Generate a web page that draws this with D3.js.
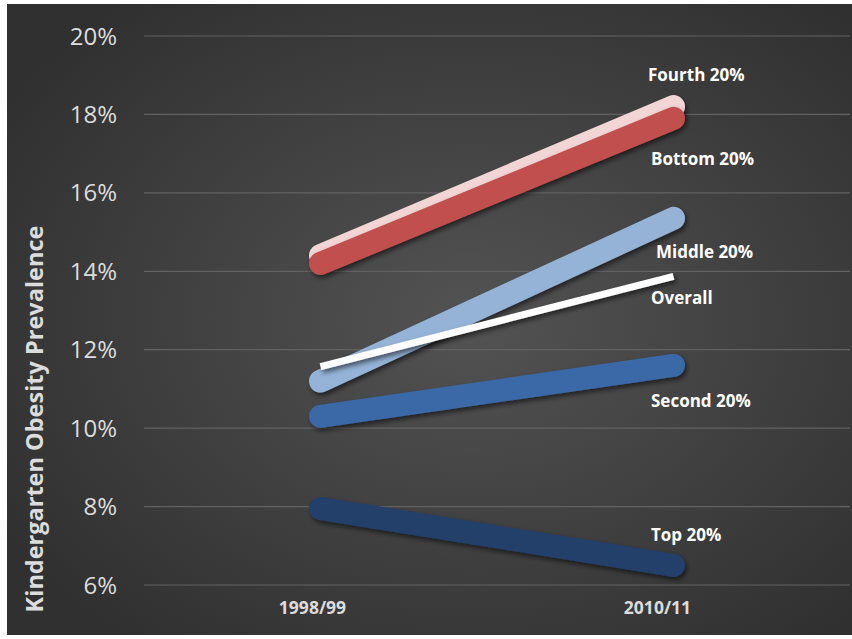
<!DOCTYPE html>
<html><head><meta charset="utf-8">
<script src="https://cdn.jsdelivr.net/npm/d3@7"></script>
<style>html,body{margin:0;padding:0;background:#fff;}svg{display:block;}</style>
</head><body>
<script>
const categories = ["1998/99", "2010/11"];
const seriesNames = ["Fourth 20%", "Bottom 20%", "Middle 20%", "Overall", "Second 20%", "Top 20%"];
const fourth = [14.4, 18.2];
const bottom = [14.2, 17.9];
const middle = [11.2, 15.35];
const overall = [11.57, 13.87];
const second = [10.3, 11.6];
const top20 = [7.95, 6.5];
const yTicks = [6, 8, 10, 12, 14, 16, 18, 20];

const W = 852, H = 639;
const svg = d3.select("body").append("svg").attr("width", W).attr("height", H);
const defs = svg.append("defs");
const rg = defs.append("radialGradient").attr("id", "bg").attr("cx", "55%").attr("cy", "50%").attr("r", "65%");
rg.append("stop").attr("offset", "0%").attr("stop-color", "#535353");
rg.append("stop").attr("offset", "100%").attr("stop-color", "#303030");
const f = defs.append("filter").attr("id", "sh").attr("x", "-20%").attr("y", "-50%").attr("width", "140%").attr("height", "200%");
f.append("feDropShadow").attr("dx", 2).attr("dy", 3).attr("stdDeviation", 2.5).attr("flood-color", "#000").attr("flood-opacity", 0.55);

svg.append("rect").attr("x", 7).attr("y", 4).attr("width", W - 7).attr("height", 631).attr("fill", "url(#bg)");

const x = d3.scalePoint().domain(categories).range([320.5, 673.5]);
const y = d3.scaleLinear().domain([6, 20]).range([585, 36]);

// gridlines
svg.append("g").selectAll("line").data(yTicks).join("line")
  .attr("x1", 144).attr("x2", 850)
  .attr("y1", d => y(d)).attr("y2", d => y(d))
  .attr("stroke", "#626262").attr("stroke-width", 1.2);

// y tick labels
svg.append("g").selectAll("text").data(yTicks).join("text")
  .attr("x", 117).attr("y", d => y(d)).attr("dy", "0.36em")
  .attr("text-anchor", "end").attr("font-family", "Open Sans, sans-serif")
  .attr("font-size", 24).attr("fill", "#dcdcdc")
  .text(d => d + "%");

// x labels
const xOff = [-8, -16];
svg.append("g").selectAll("text").data(categories).join("text")
  .attr("x", (d, i) => x(d) + xOff[i]).attr("y", 614)
  .attr("text-anchor", "middle").attr("font-family", "Open Sans, sans-serif")
  .attr("font-weight", "bold").attr("font-size", 17.5).attr("fill", "#dcdcdc")
  .text(d => d);

// y title
svg.append("text")
  .attr("transform", "translate(43,419) rotate(-90)")
  .attr("text-anchor", "middle").attr("font-family", "Open Sans, sans-serif")
  .attr("font-weight", "bold").attr("font-size", 23.5).attr("fill", "#dcdcdc")
  .text("Kindergarten Obesity Prevalence");

const series = [
  {name: "Fourth 20%", vals: fourth, color: "#f2d6d5", w: 23, lx: 648, ly: 81},
  {name: "Bottom 20%", vals: bottom, color: "#c0504d", w: 23, lx: 651, ly: 165},
  {name: "Middle 20%", vals: middle, color: "#95b3d7", w: 23, lx: 656, ly: 258},
  {name: "Overall", vals: overall, color: "#ffffff", w: 7, lx: 651, ly: 304},
  {name: "Second 20%", vals: second, color: "#3a68a6", w: 23, lx: 651, ly: 407},
  {name: "Top 20%", vals: top20, color: "#223f69", w: 23, lx: 651, ly: 541}
];
const line = d3.line().x((d, i) => x(categories[i])).y(d => y(d));
const order = [4, 5, 0, 1, 2, 3];
order.forEach(i => {
  const s = series[i];
  svg.append("path").attr("d", line(s.vals)).attr("fill", "none")
    .attr("stroke", s.color).attr("stroke-width", s.w)
    .attr("stroke-linecap", s.w > 10 ? "round" : "butt")
    .attr("filter", "url(#sh)");
});
svg.append("g").selectAll("text").data(series).join("text")
  .attr("x", d => d.lx).attr("y", d => d.ly)
  .attr("font-family", "Open Sans, sans-serif").attr("font-weight", "bold")
  .attr("font-size", 17).attr("fill", "#ffffff")
  .text(d => d.name);
</script>
</body></html>
